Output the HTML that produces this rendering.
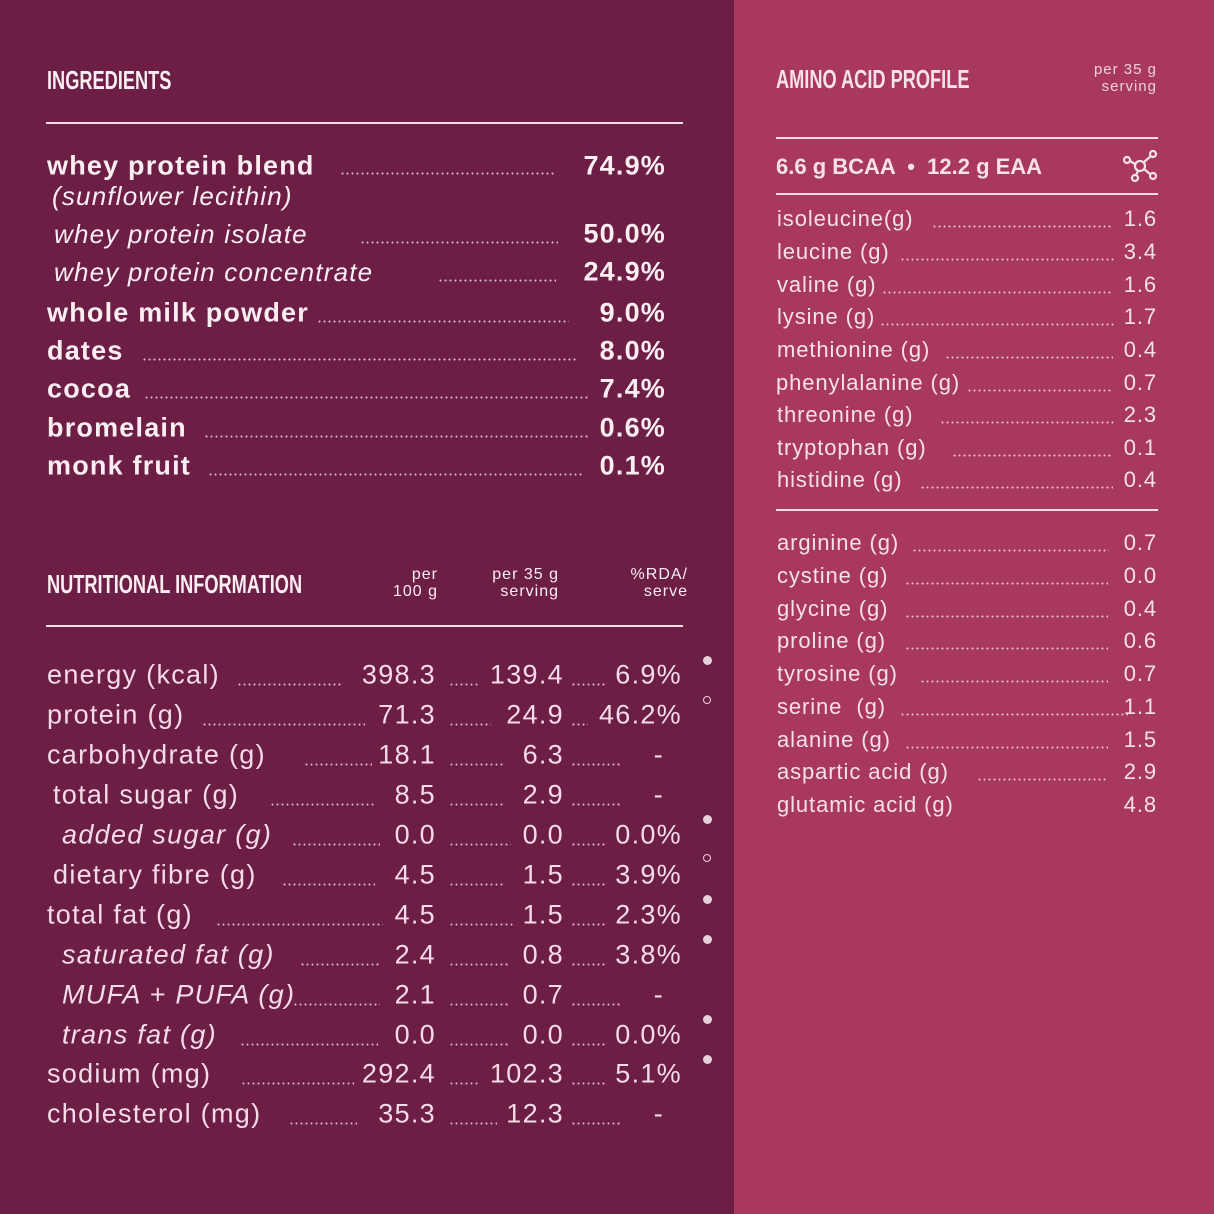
<!DOCTYPE html>
<html><head><meta charset="utf-8"><style>
html,body{margin:0;padding:0}
body{width:1214px;height:1214px;position:relative;overflow:hidden;background:#6c1e45;font-family:"Liberation Sans",sans-serif;color:#fbeef3}
#r{position:absolute;left:734px;top:0;width:480px;height:1214px;background:#a8385f}
.t{position:absolute;white-space:nowrap;line-height:1;transform:translateY(-50%)}
.v{position:absolute;white-space:nowrap;line-height:1;transform:translateY(-50%);text-align:right}
.d{position:absolute;height:3px;background-image:radial-gradient(circle,rgba(250,225,235,.8) 0.8px,transparent 1.2px);background-size:5px 3px}
.h{position:absolute;font-family:"Liberation Sans Narrow","Liberation Sans",sans-serif;font-weight:bold;font-size:26px;line-height:1;transform:translateY(-50%) scaleX(0.7);transform-origin:left center}
.ln{position:absolute;height:2px;background:#f3dbe5}
.sm{position:absolute;font-size:16px;line-height:17px;text-align:right;letter-spacing:1px}
.ing{font-size:27px;font-weight:bold;letter-spacing:1.2px}
.ingi{font-size:26px;font-style:italic;letter-spacing:1.2px}
.n{font-size:27px;letter-spacing:1.3px;color:#f4dbe7}
.a{font-size:22px;letter-spacing:0.9px;color:#f6e1ea}
.dot{position:absolute;width:9px;height:9px;border-radius:50%;background:#e8d0dc}
.ho{position:absolute;width:6px;height:6px;border-radius:50%;border:1.5px solid #e8d0dc}
</style></head><body>
<div id="r"></div>

<div class="h" style="left:47px;top:80px">INGREDIENTS</div>
<div class="ln" style="left:46px;top:122px;width:637px"></div>

<div class="t ing" style="left:47px;top:166px">whey protein blend</div><div class="d" style="left:340px;width:215px;top:172px"></div><div class="v ing" style="right:548px;top:166px">74.9%</div>
<div class="t ingi" style="left:52px;top:196px">(sunflower lecithin)</div>
<div class="t ingi" style="left:54px;top:234px">whey protein isolate</div><div class="d" style="left:360px;width:198px;top:241px"></div><div class="v ing" style="right:548px;top:234px">50.0%</div>
<div class="t ingi" style="left:54px;top:272px">whey protein concentrate</div><div class="d" style="left:438px;width:118px;top:279px"></div><div class="v ing" style="right:548px;top:272px">24.9%</div>
<div class="t ing" style="left:47px;top:313px">whole milk powder</div><div class="d" style="left:317px;width:252px;top:320px"></div><div class="v ing" style="right:548px;top:313px">9.0%</div>
<div class="t ing" style="left:47px;top:351px">dates</div><div class="d" style="left:142px;width:434px;top:358px"></div><div class="v ing" style="right:548px;top:351px">8.0%</div>
<div class="t ing" style="left:47px;top:389px">cocoa</div><div class="d" style="left:144px;width:444px;top:396px"></div><div class="v ing" style="right:548px;top:389px">7.4%</div>
<div class="t ing" style="left:47px;top:428px">bromelain</div><div class="d" style="left:204px;width:384px;top:435px"></div><div class="v ing" style="right:548px;top:428px">0.6%</div>
<div class="t ing" style="left:47px;top:466px">monk fruit</div><div class="d" style="left:208px;width:374px;top:473px"></div><div class="v ing" style="right:548px;top:466px">0.1%</div>

<div class="h" style="left:47px;top:584px">NUTRITIONAL INFORMATION</div>
<div class="sm" style="right:776px;top:566px">per<br>100 g</div>
<div class="sm" style="right:655px;top:566px">per 35 g<br>serving</div>
<div class="sm" style="right:526px;top:566px">%RDA/<br>serve</div>
<div class="ln" style="left:46px;top:625px;width:637px"></div>

<div class="t n" style="left:47px;top:675px">energy (kcal)</div><div class="d" style="left:237px;width:106px;top:683px"></div><div class="v n" style="right:778px;top:675px">398.3</div><div class="d" style="left:449px;width:30px;top:683px"></div><div class="v n" style="right:650px;top:675px">139.4</div><div class="d" style="left:571px;width:35px;top:683px"></div><div class="v n" style="right:532px;top:675px">6.9%</div>
<div class="t n" style="left:47px;top:715px">protein (g)</div><div class="d" style="left:202px;width:163px;top:723px"></div><div class="v n" style="right:778px;top:715px">71.3</div><div class="d" style="left:449px;width:42px;top:723px"></div><div class="v n" style="right:650px;top:715px">24.9</div><div class="d" style="left:571px;width:17px;top:723px"></div><div class="v n" style="right:532px;top:715px">46.2%</div>
<div class="t n" style="left:47px;top:755px">carbohydrate (g)</div><div class="d" style="left:304px;width:68px;top:763px"></div><div class="v n" style="right:778px;top:755px">18.1</div><div class="d" style="left:449px;width:55px;top:763px"></div><div class="v n" style="right:650px;top:755px">6.3</div><div class="d" style="left:571px;width:50px;top:763px"></div><div class="v n" style="right:550px;top:755px">-</div>
<div class="t n" style="left:53px;top:795px">total sugar (g)</div><div class="d" style="left:270px;width:105px;top:803px"></div><div class="v n" style="right:778px;top:795px">8.5</div><div class="d" style="left:449px;width:55px;top:803px"></div><div class="v n" style="right:650px;top:795px">2.9</div><div class="d" style="left:571px;width:50px;top:803px"></div><div class="v n" style="right:550px;top:795px">-</div>
<div class="t n" style="left:62px;top:835px;font-style:italic">added sugar (g)</div><div class="d" style="left:292px;width:88px;top:843px"></div><div class="v n" style="right:778px;top:835px">0.0</div><div class="d" style="left:449px;width:62px;top:843px"></div><div class="v n" style="right:650px;top:835px">0.0</div><div class="d" style="left:571px;width:35px;top:843px"></div><div class="v n" style="right:532px;top:835px">0.0%</div>
<div class="t n" style="left:53px;top:875px">dietary fibre (g)</div><div class="d" style="left:282px;width:93px;top:883px"></div><div class="v n" style="right:778px;top:875px">4.5</div><div class="d" style="left:449px;width:55px;top:883px"></div><div class="v n" style="right:650px;top:875px">1.5</div><div class="d" style="left:571px;width:35px;top:883px"></div><div class="v n" style="right:532px;top:875px">3.9%</div>
<div class="t n" style="left:47px;top:915px">total fat (g)</div><div class="d" style="left:216px;width:167px;top:923px"></div><div class="v n" style="right:778px;top:915px">4.5</div><div class="d" style="left:449px;width:65px;top:923px"></div><div class="v n" style="right:650px;top:915px">1.5</div><div class="d" style="left:571px;width:35px;top:923px"></div><div class="v n" style="right:532px;top:915px">2.3%</div>
<div class="t n" style="left:62px;top:955px;font-style:italic">saturated fat (g)</div><div class="d" style="left:300px;width:80px;top:963px"></div><div class="v n" style="right:778px;top:955px">2.4</div><div class="d" style="left:449px;width:60px;top:963px"></div><div class="v n" style="right:650px;top:955px">0.8</div><div class="d" style="left:571px;width:35px;top:963px"></div><div class="v n" style="right:532px;top:955px">3.8%</div>
<div class="t n" style="left:62px;top:995px;font-style:italic">MUFA + PUFA (g)</div><div class="d" style="left:293px;width:87px;top:1003px"></div><div class="v n" style="right:778px;top:995px">2.1</div><div class="d" style="left:449px;width:60px;top:1003px"></div><div class="v n" style="right:650px;top:995px">0.7</div><div class="d" style="left:571px;width:50px;top:1003px"></div><div class="v n" style="right:550px;top:995px">-</div>
<div class="t n" style="left:62px;top:1035px;font-style:italic">trans fat (g)</div><div class="d" style="left:240px;width:138px;top:1043px"></div><div class="v n" style="right:778px;top:1035px">0.0</div><div class="d" style="left:449px;width:60px;top:1043px"></div><div class="v n" style="right:650px;top:1035px">0.0</div><div class="d" style="left:571px;width:35px;top:1043px"></div><div class="v n" style="right:532px;top:1035px">0.0%</div>
<div class="t n" style="left:47px;top:1074px">sodium (mg)</div><div class="d" style="left:241px;width:113px;top:1082px"></div><div class="v n" style="right:778px;top:1074px">292.4</div><div class="d" style="left:449px;width:30px;top:1082px"></div><div class="v n" style="right:650px;top:1074px">102.3</div><div class="d" style="left:571px;width:35px;top:1082px"></div><div class="v n" style="right:532px;top:1074px">5.1%</div>
<div class="t n" style="left:47px;top:1114px">cholesterol (mg)</div><div class="d" style="left:289px;width:68px;top:1122px"></div><div class="v n" style="right:778px;top:1114px">35.3</div><div class="d" style="left:449px;width:48px;top:1122px"></div><div class="v n" style="right:650px;top:1114px">12.3</div><div class="d" style="left:571px;width:50px;top:1122px"></div><div class="v n" style="right:550px;top:1114px">-</div>

<div class="dot" style="left:703px;top:656px"></div>
<div class="ho" style="left:703px;top:696px"></div>
<div class="dot" style="left:703px;top:815px"></div>
<div class="ho" style="left:703px;top:854px"></div>
<div class="dot" style="left:703px;top:895px"></div>
<div class="dot" style="left:703px;top:935px"></div>
<div class="dot" style="left:703px;top:1015px"></div>
<div class="dot" style="left:703px;top:1055px"></div>

<div class="h" style="left:776px;top:79px;color:#f6e1ea">AMINO ACID PROFILE</div>
<div class="sm" style="right:57px;top:61px;font-size:15px;color:#f0cfdc">per 35 g<br>serving</div>
<div class="ln" style="left:776px;top:137px;width:382px"></div>
<div class="t" style="left:776px;top:167px;font-size:22px;font-weight:bold;color:#f6e1ea">6.6 g BCAA &nbsp;•&nbsp; 12.2 g EAA</div>
<svg style="position:absolute;left:1122px;top:149px" width="36" height="34" viewBox="0 0 36 34" fill="none" stroke="#f6e1ea" stroke-width="2.2"><circle cx="18" cy="17" r="5"/><circle cx="5" cy="11" r="3"/><circle cx="31" cy="5" r="3"/><circle cx="31" cy="27" r="3"/><circle cx="13" cy="29" r="3"/><line x1="8" y1="12" x2="13" y2="15"/><line x1="22" y1="13" x2="29" y2="7"/><line x1="22" y1="20" x2="28" y2="25"/><line x1="16" y1="22" x2="14" y2="26"/></svg>
<div class="ln" style="left:776px;top:193px;width:382px"></div>

<div class="t a" style="left:777px;top:219px">isoleucine(g)</div><div class="d" style="left:932px;width:180px;top:225px"></div><div class="v a" style="right:57px;top:219px">1.6</div>
<div class="t a" style="left:777px;top:252px">leucine (g)</div><div class="d" style="left:900px;width:214px;top:258px"></div><div class="v a" style="right:57px;top:252px">3.4</div>
<div class="t a" style="left:777px;top:285px">valine (g)</div><div class="d" style="left:882px;width:230px;top:291px"></div><div class="v a" style="right:57px;top:285px">1.6</div>
<div class="t a" style="left:777px;top:317px">lysine (g)</div><div class="d" style="left:880px;width:234px;top:323px"></div><div class="v a" style="right:57px;top:317px">1.7</div>
<div class="t a" style="left:777px;top:350px">methionine (g)</div><div class="d" style="left:945px;width:168px;top:356px"></div><div class="v a" style="right:57px;top:350px">0.4</div>
<div class="t a" style="left:776px;top:383px">phenylalanine (g)</div><div class="d" style="left:967px;width:145px;top:389px"></div><div class="v a" style="right:57px;top:383px">0.7</div>
<div class="t a" style="left:777px;top:415px">threonine (g)</div><div class="d" style="left:940px;width:175px;top:421px"></div><div class="v a" style="right:57px;top:415px">2.3</div>
<div class="t a" style="left:777px;top:448px">tryptophan (g)</div><div class="d" style="left:952px;width:160px;top:454px"></div><div class="v a" style="right:57px;top:448px">0.1</div>
<div class="t a" style="left:777px;top:480px">histidine (g)</div><div class="d" style="left:920px;width:193px;top:486px"></div><div class="v a" style="right:57px;top:480px">0.4</div>
<div class="ln" style="left:776px;top:509px;width:382px"></div>

<div class="t a" style="left:777px;top:543px">arginine (g)</div><div class="d" style="left:912px;width:197px;top:549px"></div><div class="v a" style="right:57px;top:543px">0.7</div>
<div class="t a" style="left:777px;top:576px">cystine (g)</div><div class="d" style="left:905px;width:203px;top:582px"></div><div class="v a" style="right:57px;top:576px">0.0</div>
<div class="t a" style="left:777px;top:609px">glycine (g)</div><div class="d" style="left:905px;width:203px;top:615px"></div><div class="v a" style="right:57px;top:609px">0.4</div>
<div class="t a" style="left:777px;top:641px">proline (g)</div><div class="d" style="left:905px;width:203px;top:647px"></div><div class="v a" style="right:57px;top:641px">0.6</div>
<div class="t a" style="left:777px;top:674px">tyrosine (g)</div><div class="d" style="left:920px;width:188px;top:680px"></div><div class="v a" style="right:57px;top:674px">0.7</div>
<div class="t a" style="left:777px;top:707px">serine &nbsp;(g)</div><div class="d" style="left:900px;width:228px;top:713px"></div><div class="v a" style="right:57px;top:707px">1.1</div>
<div class="t a" style="left:777px;top:740px">alanine (g)</div><div class="d" style="left:905px;width:203px;top:746px"></div><div class="v a" style="right:57px;top:740px">1.5</div>
<div class="t a" style="left:777px;top:772px">aspartic acid (g)</div><div class="d" style="left:977px;width:131px;top:778px"></div><div class="v a" style="right:57px;top:772px">2.9</div>
<div class="t a" style="left:777px;top:805px">glutamic acid (g)</div><div class="v a" style="right:57px;top:805px">4.8</div>
</body></html>
